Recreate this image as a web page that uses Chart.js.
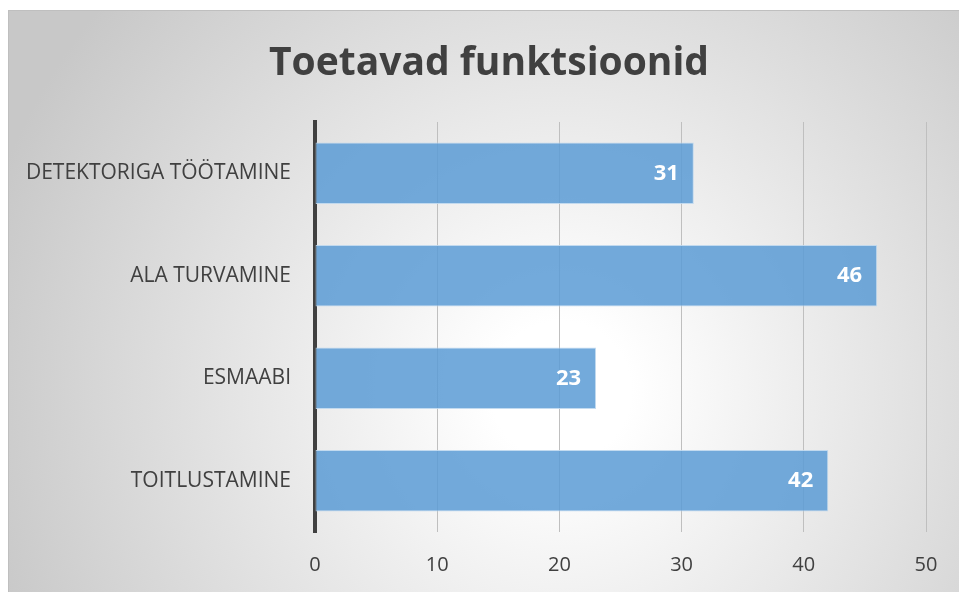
<!DOCTYPE html>
<html>
<head>
<meta charset="utf-8">
<script src="https://cdn.jsdelivr.net/npm/chart.js@4.4.1/dist/chart.umd.min.js"></script>
<style>
    html, body { margin: 0; padding: 0; overflow: hidden; }
    body { width: 959px; height: 592px; position: relative; background: #ffffff; }
    #frame {
        position: absolute;
        left: 8px;
        top: 10px;
        width: 960px;
        height: 590px;
        border: 1px solid #bfbfbf;
        background: radial-gradient(circle at 552px 380px, #ffffff 0px, #ffffff 70px, #c8c8c8 600px);
    }
    #wrap { position: absolute; left: 0; top: 0; width: 959px; height: 592px; }
</style>
</head>
<body>
<div id="frame"></div>
<div id="wrap"><canvas id="barChart"></canvas></div>
<script>
// Chart data
const chartTitle = 'Toetavad funktsioonid';
const categories = ['DETEKTORIGA TÖÖTAMINE', 'ALA TURVAMINE', 'ESMAABI', 'TOITLUSTAMINE'];
const values = [31, 46, 23, 42];
const axisMin = 0;
const axisMax = 50;
const axisStep = 10;

const textColor = '#404040';
const fontFamily = "'Open Sans', 'DejaVu Sans', sans-serif";

// Title is drawn by hand so it can sit centred over the whole frame
const titleText = {
    id: 'titleText',
    afterDraw(chart) {
        const ctx = chart.ctx;
        ctx.save();
        ctx.fillStyle = textColor;
        ctx.font = 'bold 39px ' + fontFamily;
        ctx.textAlign = 'center';
        ctx.textBaseline = 'alphabetic';
        ctx.fillText(chartTitle, 489, 75);
        ctx.restore();
    }
};

// Draws the white value labels at the inner end of each bar
const valueLabels = {
    id: 'valueLabels',
    afterDatasetsDraw(chart) {
        const ctx = chart.ctx;
        const meta = chart.getDatasetMeta(0);
        ctx.save();
        ctx.fillStyle = '#ffffff';
        ctx.font = 'bold 22px ' + fontFamily;
        ctx.textAlign = 'right';
        ctx.textBaseline = 'middle';
        meta.data.forEach((bar, i) => {
            ctx.fillText(String(values[i]), bar.x - 15, bar.y);
        });
        ctx.restore();
    }
};

document.addEventListener('DOMContentLoaded', () => {
    const ctx = document.getElementById('barChart').getContext('2d');

    new Chart(ctx, {
        type: 'bar',
        data: {
            labels: categories,
            datasets: [{
                data: values,
                backgroundColor: 'rgba(91, 155, 213, 0.85)',
                borderColor: 'rgba(189, 215, 238, 0.9)',
                borderWidth: 1,
                borderSkipped: false,
                barPercentage: 0.6,
                categoryPercentage: 1.0
            }]
        },
        options: {
            indexAxis: 'y',
            responsive: true,
            maintainAspectRatio: false,
            animation: false,
            layout: {
                padding: { left: 0, right: 33, top: 122, bottom: 0 }
            },
            plugins: {
                legend: { display: false },
                tooltip: { enabled: false },
                title: { display: false }
            },
            scales: {
                x: {
                    min: axisMin,
                    max: axisMax,
                    grid: {
                        color: '#bfbfbf',
                        lineWidth: 1,
                        drawTicks: false
                    },
                    border: { display: false },
                    ticks: {
                        stepSize: axisStep,
                        color: textColor,
                        padding: 21,
                        font: { family: fontFamily, size: 20 }
                    },
                    afterFit(scale) { scale.height = 60; }
                },
                y: {
                    grid: { display: false, drawTicks: false },
                    border: { display: true, color: '#404040', width: 4 },
                    ticks: {
                        color: textColor,
                        padding: 24,
                        font: { family: fontFamily, size: 21 }
                    },
                    afterFit(scale) { scale.width = 315; }
                }
            }
        },
        plugins: [valueLabels, titleText]
    });
});
</script>
</body>
</html>
